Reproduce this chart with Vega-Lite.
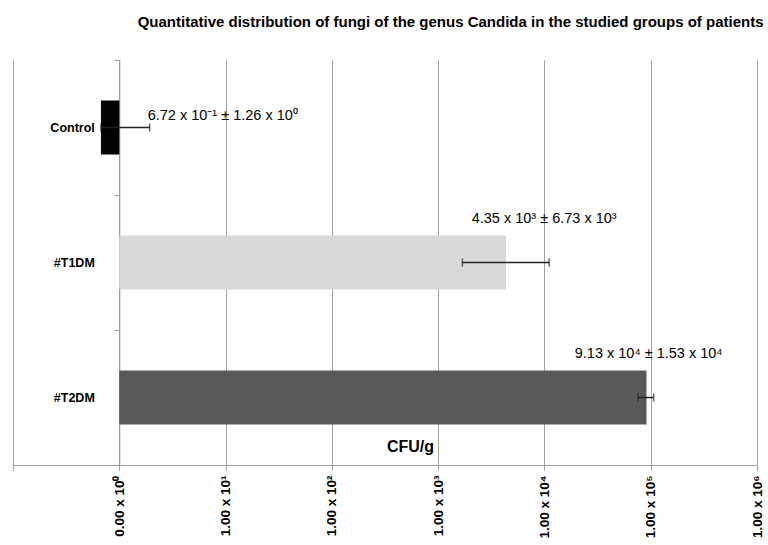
{
  "$schema": "https://vega.github.io/schema/vega-lite/v6.json",
  "width": 744,
  "height": 405,
  "autosize": "none",
  "padding": {"left": 13, "top": 60, "right": 11, "bottom": 80},
  "title": {
    "text": "Quantitative distribution of fungi of the genus Candida in the studied groups of patients",
    "anchor": "end",
    "font": "Liberation Sans Narrow, Liberation Sans",
    "fontSize": 15,
    "fontWeight": "bold",
    "color": "#000000",
    "offset": 24
  },
  "data": {
    "values": [
      {"group": "Control", "value": 0.672, "lo": 0.672, "hi": 1.932, "label": "6.72 x 10⁻¹ ± 1.26 x 10⁰"},
      {"group": "#T1DM", "value": 4350, "lo": 1690, "hi": 11080, "label": "4.35 x 10³ ± 6.73 x 10³"},
      {"group": "#T2DM", "value": 91300, "lo": 76000, "hi": 106600, "label": "9.13 x 10⁴ ± 1.53 x 10⁴"}
    ]
  },
  "encoding": {
    "y": {
      "field": "group",
      "type": "nominal",
      "sort": null,
      "scale": {"paddingInner": 0, "paddingOuter": 0},
      "axis": {
        "title": null,
        "offset": -106.3,
        "domainColor": "#9a9a9a",
        "tickColor": "#9a9a9a",
        "tickBand": "extent",
        "tickSize": 5,
        "labelPadding": 20,
        "labelFont": "Liberation Sans",
        "labelFontSize": 12.5,
        "labelFontWeight": "bold",
        "labelColor": "#000000"
      }
    }
  },
  "layer": [
    {
      "mark": {"type": "bar", "height": {"band": 0.4}},
      "encoding": {
        "x": {
          "field": "value",
          "type": "quantitative",
          "scale": {"type": "log", "domain": [0.1, 1000000], "nice": false},
          "axis": {
            "values": [0.1, 1, 10, 100, 1000, 10000, 100000, 1000000],
            "labelExpr": "datum.value < 0.5 ? '' : (datum.value < 5 ? '0.00' : '1.00') + ' x 10' + ['⁰','¹','²','³','⁴','⁵','⁶'][round(log(datum.value)/LN10)]",
            "labelAngle": -90,
            "labelFont": "Liberation Sans",
            "labelFontSize": 13.5,
            "labelFontWeight": "bold",
            "labelColor": "#000000",
            "labelPadding": 5,
            "labelFlush": false,
            "labelOverlap": false,
            "grid": true,
            "gridColor": "#a0a0a0",
            "gridWidth": 1,
            "domainColor": "#a0a0a0",
            "tickColor": "#a0a0a0",
            "tickSize": 5,
            "title": "CFU/g",
            "titleFont": "Liberation Sans Narrow, Liberation Sans",
            "titleFontSize": 16,
            "titleFontWeight": "bold",
            "titleColor": "#000000",
            "titleX": 397,
            "titleY": -11,
            "titleBaseline": "bottom"
          }
        },
        "x2": {"datum": 1},
        "color": {
          "field": "group",
          "type": "nominal",
          "scale": {"domain": ["Control", "#T1DM", "#T2DM"], "range": ["#000000", "#d9d9d9", "#595959"]},
          "legend": null
        }
      }
    },
    {
      "mark": {"type": "rule", "color": "#222222", "strokeWidth": 1.5},
      "encoding": {
        "x": {"field": "lo", "type": "quantitative"},
        "x2": {"field": "hi"}
      }
    },
    {
      "transform": [{"fold": ["lo", "hi"], "as": ["end", "pos"]}],
      "mark": {"type": "tick", "color": "#222222", "size": 8, "thickness": 1.5},
      "encoding": {
        "x": {"field": "pos", "type": "quantitative"}
      }
    },
    {
      "transform": [{"filter": "datum.group == 'Control'"}],
      "mark": {"type": "text", "align": "left", "baseline": "middle", "dx": -2, "dy": -12, "font": "Liberation Sans", "fontSize": 14.5, "color": "#000000"},
      "encoding": {
        "x": {"field": "hi", "type": "quantitative"},
        "text": {"field": "label"}
      }
    },
    {
      "transform": [{"filter": "datum.group != 'Control'"}],
      "mark": {"type": "text", "align": "center", "baseline": "middle", "dx": -5, "dy": -44, "font": "Liberation Sans", "fontSize": 14.5, "color": "#000000"},
      "encoding": {
        "x": {"field": "hi", "type": "quantitative"},
        "text": {"field": "label"}
      }
    }
  ],
  "config": {"view": {"stroke": null}}
}
